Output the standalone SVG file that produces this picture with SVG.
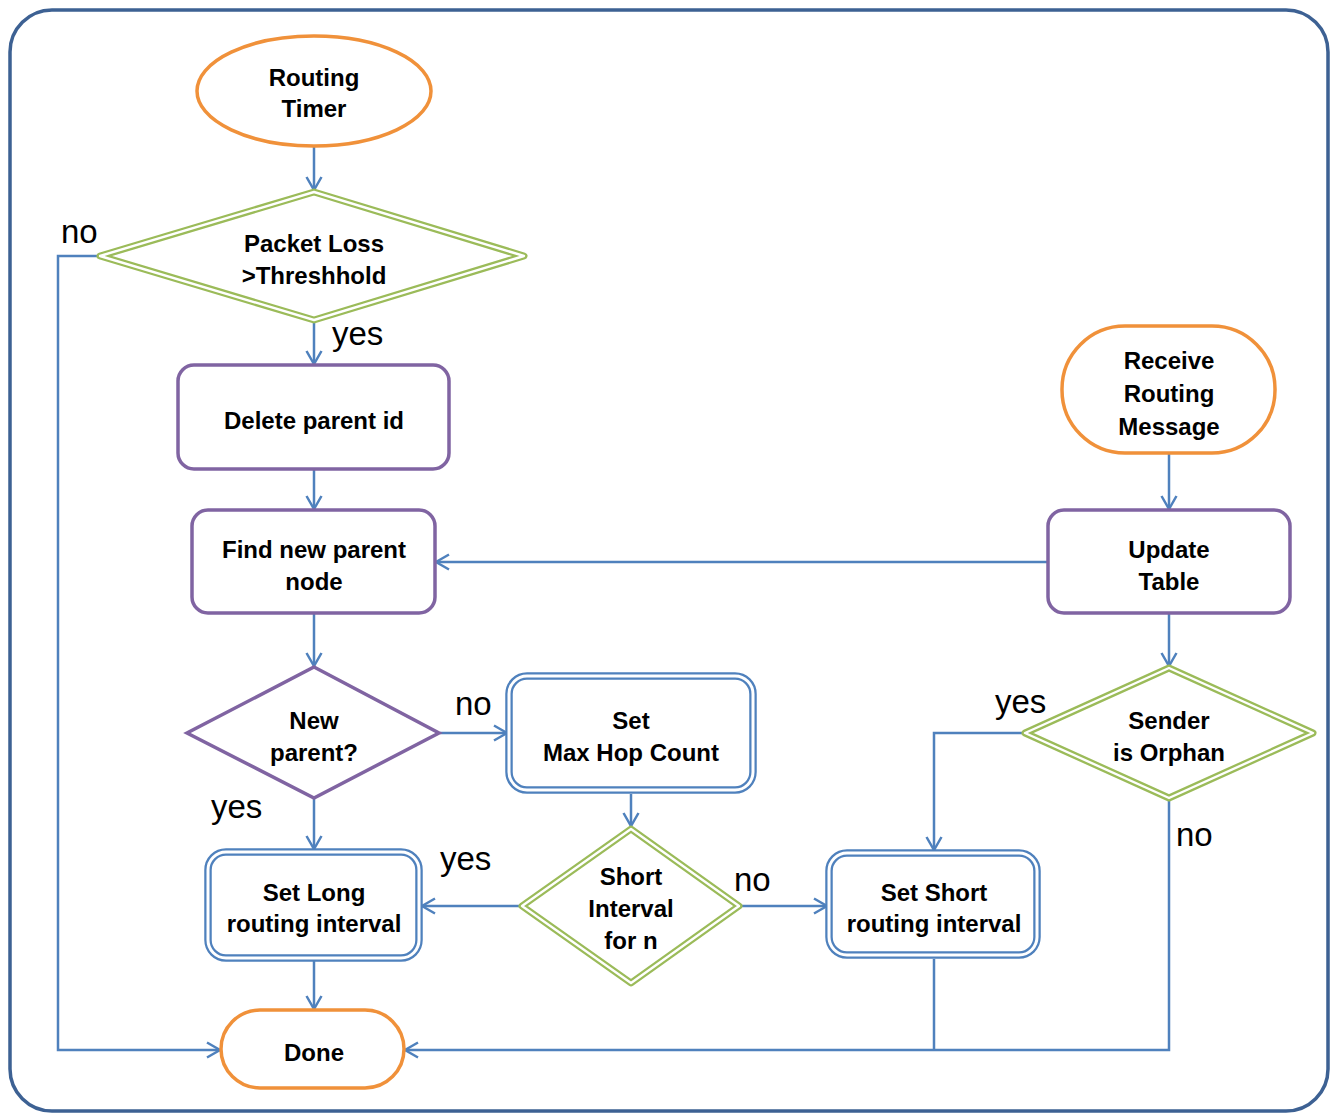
<svg xmlns="http://www.w3.org/2000/svg" width="1332" height="1115" viewBox="0 0 1332 1115">
<defs>
<style>
.t{font-family:"Liberation Sans",Arial,sans-serif;font-weight:bold;font-size:24px;fill:#000;text-anchor:middle}
.l{font-family:"Liberation Sans",Arial,sans-serif;font-size:33px;fill:#000}
.org{fill:#fff;stroke:#F0913A;stroke-width:3.5}
.pur{fill:#fff;stroke:#8064A2;stroke-width:3.5}
.gO{fill:#fff;stroke:#9BBB59;stroke-width:7;stroke-linejoin:round}
.gI{fill:none;stroke:#fff;stroke-width:2.4;stroke-linejoin:round}
.bO{fill:#fff;stroke:#4F81BD;stroke-width:7.5}
.bI{fill:none;stroke:#fff;stroke-width:3}
.c{fill:none;stroke:#4F81BD;stroke-width:2.5}
</style>
<marker id="a" viewBox="0 0 20 20" refX="18" refY="10" markerWidth="20" markerHeight="20" markerUnits="userSpaceOnUse" orient="auto">
<path d="M5,2.5 L18,10 L5,17.5" fill="none" stroke="#4F81BD" stroke-width="2.5"/>
</marker>
</defs>
<rect x="0" y="0" width="1332" height="1115" fill="#fff"/>
<rect x="10" y="10" width="1318" height="1101" rx="42" ry="42" fill="#fff" stroke="#3D6193" stroke-width="3.5"/>

<g id="connectors">
<line class="c" x1="314" y1="146" x2="314" y2="190" marker-end="url(#a)"/>
<polyline class="c" points="98,256 58,256 58,1050 220,1050" marker-end="url(#a)"/>
<line class="c" x1="314" y1="322" x2="314" y2="364" marker-end="url(#a)"/>
<line class="c" x1="314" y1="469" x2="314" y2="509" marker-end="url(#a)"/>
<line class="c" x1="1048" y1="562" x2="436" y2="562" marker-end="url(#a)"/>
<line class="c" x1="1169" y1="454" x2="1169" y2="509" marker-end="url(#a)"/>
<line class="c" x1="314" y1="614" x2="314" y2="666" marker-end="url(#a)"/>
<line class="c" x1="440" y1="733" x2="507" y2="733" marker-end="url(#a)"/>
<line class="c" x1="631" y1="794" x2="631" y2="826" marker-end="url(#a)"/>
<line class="c" x1="314" y1="798" x2="314" y2="849" marker-end="url(#a)"/>
<line class="c" x1="519" y1="906" x2="422" y2="906" marker-end="url(#a)"/>
<line class="c" x1="742" y1="906" x2="827" y2="906" marker-end="url(#a)"/>
<line class="c" x1="314" y1="961" x2="314" y2="1009" marker-end="url(#a)"/>
<line class="c" x1="1169" y1="614" x2="1169" y2="666" marker-end="url(#a)"/>
<polyline class="c" points="1022,733 934,733 934,850" marker-end="url(#a)"/>
<line class="c" x1="934" y1="959" x2="934" y2="1050"/>
<polyline class="c" points="1169,800 1169,1050 405,1050" marker-end="url(#a)"/>
</g>

<g id="routing-timer">
<ellipse class="org" cx="314" cy="91" rx="117" ry="55"/>
<text class="t" x="314" y="86">Routing</text>
<text class="t" x="314" y="117">Timer</text>
</g>

<g id="packet-loss">
<polygon class="gO" points="314,192 524,256 314,320 100,256"/>
<polygon class="gI" points="314,192 524,256 314,320 100,256"/>
<text class="t" x="314" y="252">Packet Loss</text>
<text class="t" x="314" y="284">&gt;Threshhold</text>
</g>

<g id="delete-parent">
<rect class="pur" x="178" y="365" width="271" height="104" rx="16"/>
<text class="t" x="314" y="429">Delete parent id</text>
</g>

<g id="find-parent">
<rect class="pur" x="192" y="510" width="243" height="103" rx="16"/>
<text class="t" x="314" y="558">Find new parent</text>
<text class="t" x="314" y="590">node</text>
</g>

<g id="receive-msg">
<rect class="org" x="1062" y="326" width="213" height="127" rx="63" ry="63"/>
<text class="t" x="1169" y="369">Receive</text>
<text class="t" x="1169" y="402">Routing</text>
<text class="t" x="1169" y="435">Message</text>
</g>

<g id="update-table">
<rect class="pur" x="1048" y="510" width="242" height="103" rx="16"/>
<text class="t" x="1169" y="558">Update</text>
<text class="t" x="1169" y="590">Table</text>
</g>

<g id="new-parent">
<polygon class="pur" points="314,667 439,733 314,798 187,733"/>
<text class="t" x="314" y="729">New</text>
<text class="t" x="314" y="761">parent?</text>
</g>

<g id="max-hop">
<rect class="bO" x="509" y="676" width="244" height="114" rx="18"/>
<rect class="bI" x="509" y="676" width="244" height="114" rx="18"/>
<text class="t" x="631" y="729">Set</text>
<text class="t" x="631" y="761">Max Hop Count</text>
</g>

<g id="short-interval">
<polygon class="gO" points="631,829 739,906 631,983 522,906"/>
<polygon class="gI" points="631,829 739,906 631,983 522,906"/>
<text class="t" x="631" y="885">Short</text>
<text class="t" x="631" y="917">Interval</text>
<text class="t" x="631" y="949">for n</text>
</g>

<g id="set-long">
<rect class="bO" x="208" y="852" width="211" height="106" rx="18"/>
<rect class="bI" x="208" y="852" width="211" height="106" rx="18"/>
<text class="t" x="314" y="901">Set Long</text>
<text class="t" x="314" y="932">routing interval</text>
</g>

<g id="set-short">
<rect class="bO" x="829" y="853" width="208" height="102" rx="18"/>
<rect class="bI" x="829" y="853" width="208" height="102" rx="18"/>
<text class="t" x="934" y="901">Set Short</text>
<text class="t" x="934" y="932">routing interval</text>
</g>

<g id="sender-orphan">
<polygon class="gO" points="1169,668 1313,733 1169,798 1025,733"/>
<polygon class="gI" points="1169,668 1313,733 1169,798 1025,733"/>
<text class="t" x="1169" y="729">Sender</text>
<text class="t" x="1169" y="761">is Orphan</text>
</g>

<g id="done">
<rect class="org" x="221" y="1010" width="183" height="78" rx="39" ry="39"/>
<text class="t" x="314" y="1061">Done</text>
</g>

<g id="labels">
<text class="l" x="61" y="243">no</text>
<text class="l" x="332" y="345">yes</text>
<text class="l" x="455" y="715">no</text>
<text class="l" x="211" y="818">yes</text>
<text class="l" x="440" y="870">yes</text>
<text class="l" x="734" y="891">no</text>
<text class="l" x="995" y="713">yes</text>
<text class="l" x="1176" y="846">no</text>
</g>
</svg>
